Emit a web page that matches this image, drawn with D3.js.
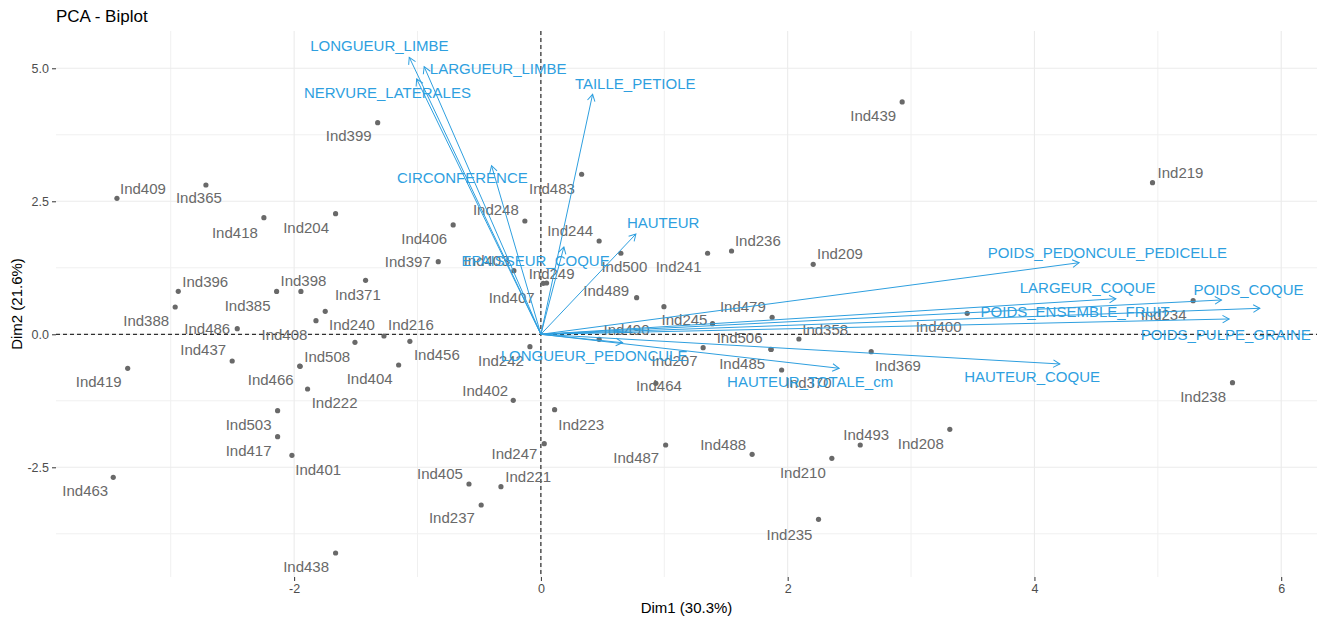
<!DOCTYPE html>
<html>
<head>
<meta charset="utf-8">
<script src="https://cdn.jsdelivr.net/npm/d3@7"></script>
<style>
  html, body { margin: 0; padding: 0; background: #ffffff; }
  svg { display: block; font-family: "Liberation Sans", Arial, sans-serif; }
</style>
</head>
<body>
<svg id="chart" width="1326" height="619"></svg>
<script>
// ---- Individuals: coordinates on the first two principal components ----
const individuals = [
  "Ind439","Ind219","Ind399","Ind409","Ind365","Ind418","Ind204","Ind406","Ind248","Ind483",
  "Ind397","Ind244","Ind500","Ind241","Ind236","Ind209","Ind403","Ind407","Ind249","Ind489",
  "Ind396","Ind398","Ind385","Ind371","Ind388","Ind486","Ind408","Ind240","","Ind216",
  "Ind456","Ind437","Ind508","Ind466","Ind404","Ind222","Ind419","Ind503","Ind417","Ind401",
  "Ind463","Ind438","Ind223","Ind402","Ind242","Ind247","Ind487","Ind488","Ind210","Ind405",
  "Ind221","Ind237","Ind235","Ind493","Ind208","Ind490","","Ind245","Ind479","Ind358",
  "Ind506","Ind485","Ind207","Ind370","Ind464","Ind369","Ind400","Ind234","Ind238"
];
const dim1 = [
  2.928, 4.957, -1.323, -3.436, -2.715, -2.245, -1.664, -0.711, -0.130, 0.330,
  -0.832, 0.472, 0.648, 1.351, 1.545, 2.207, -0.219, 0.019, 0.046, 0.776,
  -2.939, -1.945, -2.142, -1.421, -2.964, -2.461, -1.823, -1.748, -1.507, -1.272,
  -1.062, -2.502, -1.951, -1.955, -1.153, -1.891, -3.349, -2.134, -2.134, -2.018,
  -3.466, -1.664, 0.111, -0.224, -0.089, 0.027, 1.011, 1.712, 2.358, -0.583,
  -0.324, -0.484, 2.250, 2.588, 3.314, 0.472, 0.997, 1.391, 1.874, 2.091,
  1.864, 1.866, 1.315, 1.951, 0.932, 2.677, 3.455, 5.286, 5.605
];
const dim2 = [
  4.367, 2.850, 3.977, 2.556, 2.806, 2.192, 2.267, 2.055, 2.130, 3.008,
  1.365, 1.754, 1.523, 1.523, 1.566, 1.316, 1.195, 0.959, 0.964, 0.688,
  0.808, 0.805, 0.805, 1.015, 0.513, 0.105, 0.256, 0.432, -0.150, -0.032,
  -0.132, -0.502, -0.602, -0.598, -0.577, -1.028, -0.639, -1.436, -1.925, -2.274,
  -2.688, -4.111, -1.417, -1.241, -0.233, -2.056, -2.081, -2.256, -2.331, -2.814,
  -2.865, -3.209, -3.477, -2.081, -1.786, -0.094, 0.519, 0.199, 0.320, -0.088,
  -0.282, -0.286, -0.252, -0.671, -0.921, -0.327, 0.395, 0.632, -0.910
];

// ---- Variables: loadings (arrow tips) on the same two components ----
const variables = [
  "LONGUEUR_LIMBE","LARGUEUR_LIMBE","NERVURE_LATERALES","CIRCONFERENCE","TAILLE_PETIOLE",
  "HAUTEUR","EPAISSEUR_COQUE","LONGUEUR_PEDONCULE","HAUTEUR_TOTALE_cm","HAUTEUR_COQUE",
  "POIDS_PEDONCULE_PEDICELLE","LARGEUR_COQUE","POIDS_COQUE","POIDS_ENSEMBLE_FRUIT","POIDS_PULPE_GRAINE"
];
const varDim1 = [-1.067, -0.946, -1.007, -0.400, 0.419, 0.770, 0.186, 0.662, 2.417, 4.206, 4.362, 4.660, 5.516, 5.827, 5.578];
const varDim2 = [5.207, 5.030, 4.799, 3.169, 4.511, 1.885, 1.641, -0.158, -0.639, -0.558, 1.346, 0.669, 0.645, 0.489, 0.288];

// ---- Axes ----
const xTicks = [-2, 0, 2, 4, 6];
const yTicks = [-2.5, 0, 2.5, 5];
const xTitle = "Dim1 (30.3%)";
const yTitle = "Dim2 (21.6%)";
const chartTitle = "PCA - Biplot";

// ---- Layout: label placement (pixel offsets of each label from its point) ----
const indLabelOffset = {
  Ind439:[-29,14], Ind219:[28,-10], Ind399:[-29,13], Ind409:[26,-10], Ind365:[-7,12.5],
  Ind418:[-29,14.5], Ind204:[-29.5,14], Ind406:[-29,14], Ind248:[-29,-11], Ind483:[-29.7,14.2],
  Ind397:[-30.5,0], Ind244:[-29,-10], Ind500:[3.5,13.5], Ind241:[-29,13.5], Ind236:[26.3,-10.8],
  Ind209:[26.7,-11], Ind403:[-27.3,-10.4], Ind407:[-31.6,14.5], Ind249:[5,-9], Ind489:[-30.4,-7.2],
  Ind396:[27,-9.5], Ind398:[2.5,-10.7], Ind385:[-29,13.7], Ind371:[-7.7,14], Ind388:[-29,14],
  Ind486:[-30,0], Ind408:[-31.5,13.5], Ind240:[26.7,13], Ind216:[27,-11],
  Ind456:[27,13.7], Ind437:[-29,-11.5], Ind508:[27,-10], Ind466:[-29,13.5], Ind404:[-29,14],
  Ind222:[27,13.5], Ind419:[-29,13.5], Ind503:[-29,14.3], Ind417:[-29,14], Ind401:[26.3,14.5],
  Ind463:[-28,13.5], Ind438:[-29.5,13.5], Ind223:[26.6,14.5], Ind402:[-28,-10], Ind242:[-29,14],
  Ind247:[-29.8,9.8], Ind487:[-29.4,12.5], Ind488:[-29,-10], Ind210:[-29,14], Ind405:[-29,-10],
  Ind221:[27.3,-10], Ind237:[-29.3,12.5], Ind235:[-29,15], Ind493:[6,-10], Ind208:[-29,14],
  Ind490:[27.4,-10], Ind245:[-28,-4.5], Ind479:[-29.3,-10.8], Ind358:[26.3,-9.8],
  Ind506:[-31.3,-11.8], Ind485:[-29,13.9], Ind207:[-28.6,13.1], Ind370:[27,12.5], Ind464:[3,2.5],
  Ind369:[26.7,14], Ind400:[-28.6,13.2], Ind234:[-29.5,14.3], Ind238:[-29.4,13.8]
};
const varLabelOffset = {
  LONGUEUR_LIMBE:[-29.8,-11.6], LARGUEUR_LIMBE:[74,1.6], NERVURE_LATERALES:[-29.2,13.7],
  CIRCONFERENCE:[-29.2,12], TAILLE_PETIOLE:[42.6,-11], HAUTEUR:[27.3,-11.7],
  EPAISSEUR_COQUE:[-28.2,13.7], LONGUEUR_PEDONCULE:[-28.5,12.6], HAUTEUR_TOTALE_cm:[-29,13.4],
  HAUTEUR_COQUE:[-27.8,12.7], POIDS_PEDONCULE_PEDICELLE:[28.2,-10.4], LARGEUR_COQUE:[-28.2,-11],
  POIDS_COQUE:[27,-10.7], POIDS_ENSEMBLE_FRUIT:[-184.7,3.4], POIDS_PULPE_GRAINE:[-3.3,15.3]
};

const indColor = "#696969";
const varColor = "#2E9FDF";

const svg = d3.select("#chart");
const panel = { left: 56, right: 1317, top: 31, bottom: 577 };

const x = d3.scaleLinear().domain([-3.93, 6.29]).range([panel.left, panel.right]);
const y = d3.scaleLinear().domain([-4.562, 5.701]).range([panel.bottom, panel.top]);

// minor grid sits halfway between major breaks
const step = (a) => a[1] - a[0];
const xMinor = d3.range(xTicks[0] - step(xTicks) / 2, 6.3, step(xTicks)).filter(v => v >= -3.93 && v <= 6.29);
const yMinor = d3.range(yTicks[0] - step(yTicks) / 2, 5.71, step(yTicks)).filter(v => v >= -4.562 && v <= 5.701);

const grid = svg.append("g");
grid.selectAll("line.xminor").data(xMinor).join("line")
  .attr("x1", d => x(d)).attr("x2", d => x(d))
  .attr("y1", panel.top).attr("y2", panel.bottom)
  .attr("stroke", "#F0F0F0").attr("stroke-width", 1);
grid.selectAll("line.yminor").data(yMinor).join("line")
  .attr("y1", d => y(d)).attr("y2", d => y(d))
  .attr("x1", panel.left).attr("x2", panel.right)
  .attr("stroke", "#F0F0F0").attr("stroke-width", 1);
grid.selectAll("line.xmajor").data(xTicks).join("line")
  .attr("x1", d => x(d)).attr("x2", d => x(d))
  .attr("y1", panel.top).attr("y2", panel.bottom)
  .attr("stroke", "#EBEBEB").attr("stroke-width", 1.1);
grid.selectAll("line.ymajor").data(yTicks).join("line")
  .attr("y1", d => y(d)).attr("y2", d => y(d))
  .attr("x1", panel.left).attr("x2", panel.right)
  .attr("stroke", "#EBEBEB").attr("stroke-width", 1.1);

// axes (ticks + labels only)
const xAxis = svg.append("g")
  .attr("transform", `translate(0,${panel.bottom})`)
  .call(d3.axisBottom(x).tickValues(xTicks).tickFormat(d => String(d)).tickSize(4).tickPadding(3));
const yAxis = svg.append("g")
  .attr("transform", `translate(${panel.left},0)`)
  .call(d3.axisLeft(y).tickValues(yTicks).tickFormat(d => d.toFixed(1)).tickSize(4).tickPadding(3));
[xAxis, yAxis].forEach(g => {
  g.select(".domain").remove();
  g.selectAll(".tick line").attr("stroke", "#333333").attr("stroke-width", 1);
  g.selectAll(".tick text").attr("fill", "#4D4D4D").style("font-size", "12.5px")
    .style("font-family", "'Liberation Sans', Arial, sans-serif");
});

// reference lines through the origin
svg.append("line")
  .attr("x1", panel.left).attr("x2", panel.right)
  .attr("y1", y(0)).attr("y2", y(0))
  .attr("stroke", "#000").attr("stroke-width", 1).attr("stroke-dasharray", "4,3");
svg.append("line")
  .attr("x1", x(0)).attr("x2", x(0))
  .attr("y1", panel.top).attr("y2", panel.bottom)
  .attr("stroke", "#000").attr("stroke-width", 1).attr("stroke-dasharray", "4,3");

// individuals
const inds = individuals.map((name, i) => ({ name, d1: dim1[i], d2: dim2[i] }));
const gi = svg.append("g");
gi.selectAll("circle").data(inds).join("circle")
  .attr("cx", d => x(d.d1)).attr("cy", d => y(d.d2)).attr("r", 2.6)
  .attr("fill", indColor);
gi.selectAll("text").data(inds.filter(d => d.name)).join("text")
  .attr("x", d => x(d.d1) + indLabelOffset[d.name][0])
  .attr("y", d => y(d.d2) + indLabelOffset[d.name][1])
  .attr("dy", "0.36em").attr("text-anchor", "middle")
  .attr("fill", indColor).style("font-size", "15px")
  .text(d => d.name);

// variable arrows
svg.append("defs").append("marker")
  .attr("id", "head").attr("markerUnits", "userSpaceOnUse")
  .attr("viewBox", "-10 -6 12 12").attr("refX", 0).attr("refY", 0)
  .attr("markerWidth", 12).attr("markerHeight", 12).attr("orient", "auto")
  .append("path").attr("d", "M-6.6,-3.8L0,0L-6.6,3.8")
  .attr("fill", "none").attr("stroke", varColor).attr("stroke-width", 1);

const vars = variables.map((name, i) => ({ name, d1: varDim1[i], d2: varDim2[i] }));
const gv = svg.append("g");
gv.selectAll("line").data(vars).join("line")
  .attr("x1", x(0)).attr("y1", y(0))
  .attr("x2", d => x(d.d1)).attr("y2", d => y(d.d2))
  .attr("stroke", varColor).attr("stroke-width", 1)
  .attr("marker-end", "url(#head)");
gv.selectAll("text").data(vars).join("text")
  .attr("x", d => x(d.d1) + varLabelOffset[d.name][0])
  .attr("y", d => y(d.d2) + varLabelOffset[d.name][1])
  .attr("dy", "0.36em").attr("text-anchor", "middle")
  .attr("fill", varColor).style("font-size", "15px")
  .text(d => d.name);

// titles
svg.append("text").attr("x", 56).attr("y", 22)
  .attr("fill", "#000").style("font-size", "17px").text(chartTitle);
svg.append("text").attr("x", (panel.left + panel.right) / 2).attr("y", 613)
  .attr("text-anchor", "middle").attr("fill", "#000").style("font-size", "15px").text(xTitle);
svg.append("text")
  .attr("transform", `translate(22,${(panel.top + panel.bottom) / 2}) rotate(-90)`)
  .attr("text-anchor", "middle").attr("fill", "#000").style("font-size", "15px").text(yTitle);
</script>
</body>
</html>
